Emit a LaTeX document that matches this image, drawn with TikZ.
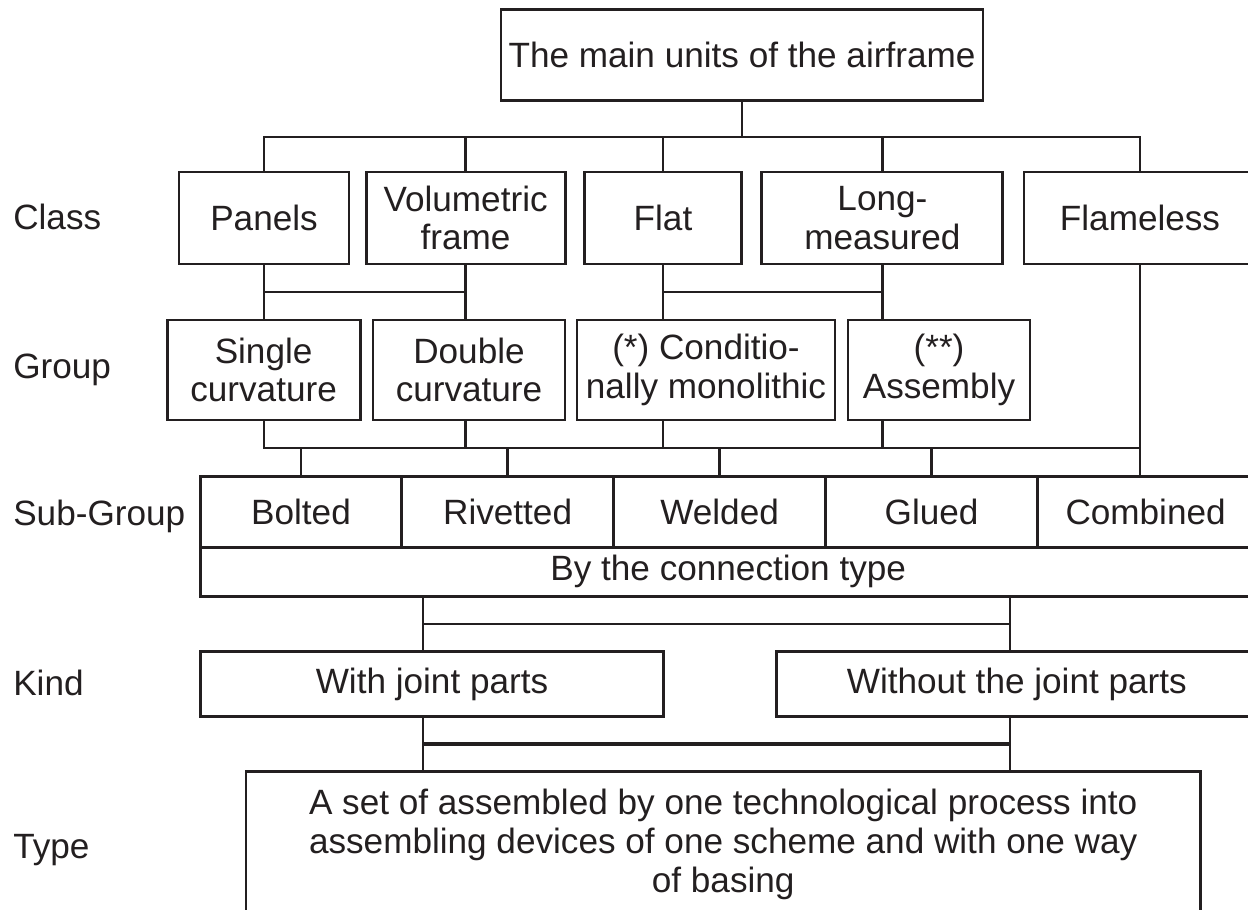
\documentclass[tikz,border=0pt]{standalone}
\usepackage{fontspec}
\setmainfont{Liberation Sans}
\definecolor{ink}{HTML}{231F20}

\begin{document}
\begin{tikzpicture}[
  font=\fontsize{25pt}{27.4pt}\selectfont,
  text=ink,
  unit/.style={
    draw=ink,
    line width=2.1pt,
    align=center,
    inner sep=0pt
  },
  class/.style={unit, minimum height=2.3cm},
  group/.style={unit, minimum height=2.5cm},
  subgroup/.style={unit, minimum height=1.775cm, minimum width=5.3cm},
  kind/.style={unit, minimum height=1.625cm},
  link/.style={draw=ink, line width=2.1pt},
  level/.style={anchor=base west, inner sep=0pt}
]
\useasboundingbox (0,0) rectangle (31.2,-22.75);

% row headings
\node[level] (lclass) at (0.325,-5.75) {Class};
\node[level] (lgroup) at (0.325,-9.45) {Group};
\node[level] (lsub) at (0.325,-13.125) {Sub-Group};
\node[level] (lkind) at (0.325,-17.375) {Kind};
\node[level] (ltype) at (0.325,-21.45) {Type};

\node[unit, minimum width=12.05cm, minimum height=2.285cm] (airframe) at (18.55,-1.375) {The main units of the airframe};

% class
\node[class, minimum width=4.25cm] (panels) at (6.6,-5.45) {Panels};
\node[class, minimum width=4.975cm] (volumetric) at (11.64,-5.45) {Volumetric\\frame};
\node[class, minimum width=3.925cm] (flat) at (16.575,-5.45) {Flat};
\node[class, minimum width=6.025cm] (longm) at (22.06,-5.45) {Long-\\measured};
\node[class, minimum width=5.8cm] (flameless) at (28.5,-5.45) {Flameless};

% group
\node[group, minimum width=4.825cm] (single) at (6.59,-9.25) {Single\\curvature};
\node[group, minimum width=4.8cm] (double) at (11.725,-9.25) {Double\\curvature};
\node[group, minimum width=6.45cm] (cond) at (17.65,-9.25) {(*) Conditio-\\nally monolithic};
\node[group, minimum width=4.55cm] (assembly) at (23.475,-9.25) {(**)\\Assembly};

% sub-group
\node[subgroup, minimum width=5.03cm] (bolted) at (7.525,-12.79) {Bolted};
\node[subgroup] (rivetted) at (12.69,-12.79) {Rivetted};
\node[subgroup] (welded) at (17.99,-12.79) {Welded};
\node[subgroup] (glued) at (23.29,-12.79) {Glued};
\node[subgroup, minimum width=5.4cm] (combined) at (28.64,-12.79) {Combined};
\node[unit, minimum width=26.4cm, minimum height=1.225cm] (conntype) at (18.205,-14.29) {By the connection type};

% kind
\node[kind, minimum width=11.59cm] (withjoint) at (10.8,-17.11) {With joint parts};
\node[kind, minimum width=12cm] (without) at (25.42,-17.11) {Without the joint parts};

% type
\node[unit, minimum width=23.86cm, minimum height=3.625cm] (typeset) at (18.08,-21.11) {A set of assembled by one technological process into\\assembling devices of one scheme and with one way\\of basing};

% connectors
\coordinate (classbus) at (18.55,-3.425);
\coordinate (pairbus) at (0,-7.3);
\coordinate (subbus) at (0,-11.2);
\coordinate (kindl) at (10.575,-15.6);
\coordinate (kindr) at (25.25,-15.6);
\coordinate (typel) at (10.575,-18.6);
\coordinate (typer) at (25.25,-18.6);

\draw[link] (airframe) -- (classbus);
\draw[link] (panels) |- (classbus) -| (flameless);
\foreach \n in {volumetric,flat,longm}
  \draw[link] (\n) -- (\n |- classbus);

\draw[link] (panels.south) -- (panels.south |- single.north);
\draw[link] (volumetric.south) -- (volumetric.south |- double.north);
\draw[link] (flat.south) -- (flat.south |- cond.north);
\draw[link] (longm.south) -- (longm.south |- assembly.north);
\draw[link] (panels |- pairbus) -- (volumetric |- pairbus);
\draw[link] (flat |- pairbus) -- (longm |- pairbus);

\draw[link] (single.south -| panels) -- (panels |- subbus) -- (flameless |- subbus);
\draw[link] (double.south -| volumetric) -- (volumetric |- subbus);
\draw[link] (cond.south -| flat) -- (flat |- subbus);
\draw[link] (assembly.south -| longm) -- (longm |- subbus);
\draw[link] (flameless) -- (flameless |- combined.north);
\foreach \n in {bolted,rivetted,welded,glued}
  \draw[link] (\n) -- (\n |- subbus);

\draw[link] (conntype.south -| kindl) -- (withjoint.north -| kindl);
\draw[link] (conntype.south -| kindr) -- (without.north -| kindr);
\draw[link] (kindl) -- (kindr);
\draw[link] (withjoint.south -| typel) -- (typeset.north -| typel);
\draw[link] (without.south -| typer) -- (typeset.north -| typer);
\draw[link, line width=2.8pt] (typel) -- (typer);

\end{tikzpicture}
\end{document}
